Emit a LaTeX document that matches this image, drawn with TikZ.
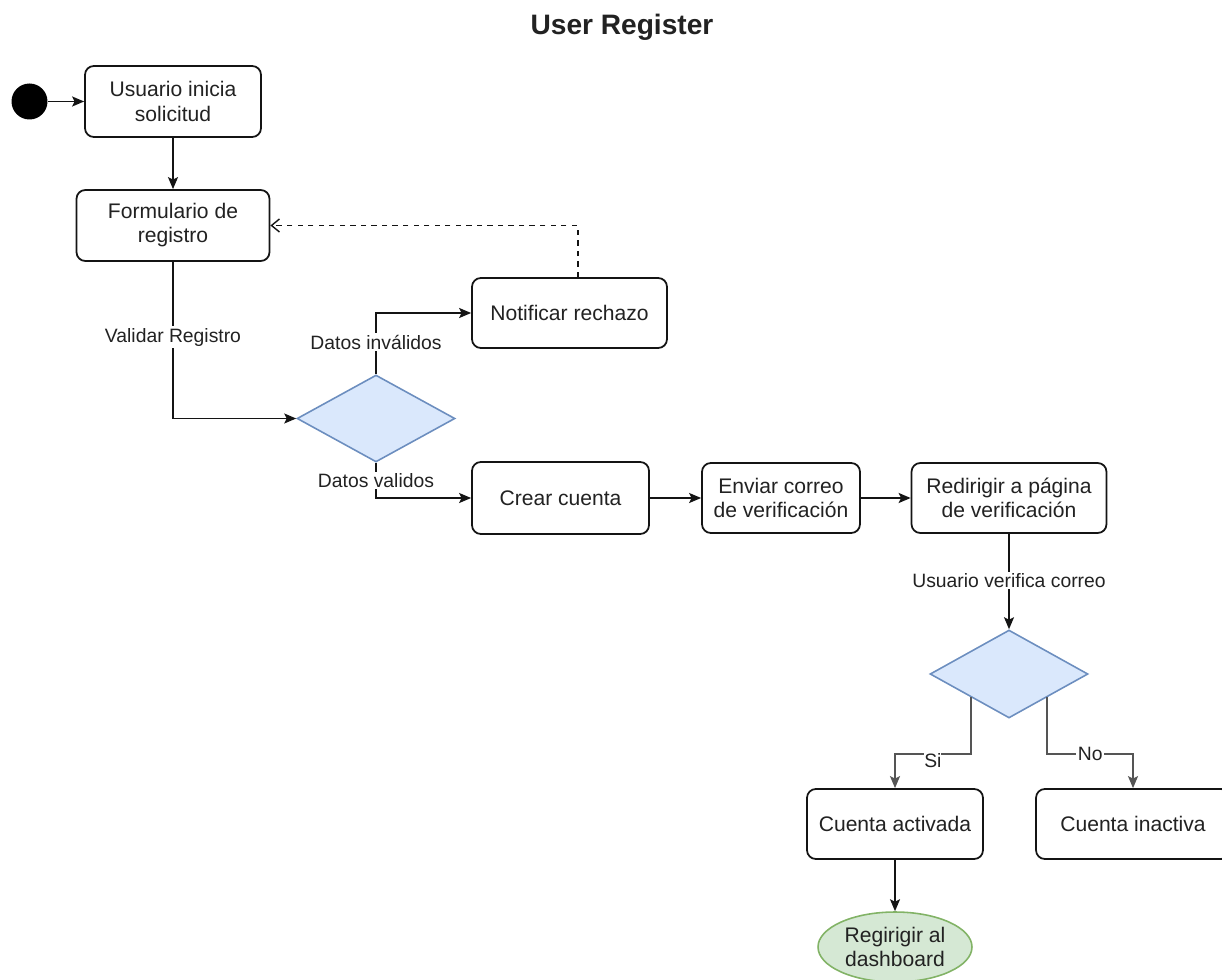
\documentclass[tikz,border=0pt]{standalone}
\usepackage{fontspec}
\setmainfont{Liberation Sans}
\usepackage{xcolor}
\usepackage{tikz}
\definecolor{textgray}{RGB}{34, 34, 34}
\definecolor{lineblack}{RGB}{20, 20, 20}
\definecolor{branchgray}{RGB}{85, 85, 85}
\definecolor{decfill}{RGB}{218, 232, 252}
\definecolor{decdraw}{RGB}{108, 142, 191}
\definecolor{endfill}{RGB}{213, 232, 212}
\definecolor{enddraw}{RGB}{130, 179, 102}
\usetikzlibrary{shapes.geometric,arrows.meta,positioning,calc}

\begin{document}
\begin{tikzpicture}[
    x=0.02cm, y=-0.02cm,
    action/.style={
        rectangle,
        rounded corners=5pt,
        minimum width=3.52cm,
        minimum height=1.42cm,
        align=center,
        font=\fontsize{12}{13.7}\selectfont,
        text=textgray,
        draw=lineblack,
        fill=white,
        line width=1pt
    },
    decision/.style={
        diamond,
        minimum width=3.16cm,
        minimum height=1.74cm,
        inner sep=0pt,
        fill=decfill,
        draw=decdraw,
        line width=0.9pt
    },
    final/.style={
        ellipse,
        minimum width=3.08cm,
        minimum height=1.4cm,
        inner sep=0pt,
        align=center,
        font=\fontsize{12}{13.7}\selectfont,
        text=textgray,
        fill=endfill,
        draw=enddraw,
        line width=0.9pt
    },
    lbl/.style={fill=white, inner sep=1pt, text=textgray, font=\fontsize{11}{12}\selectfont},
    arrow/.style={-{Stealth[length=0.24cm,width=0.2cm,inset=0.05cm]}, line width=1pt, draw=lineblack},
    branch/.style={arrow, draw=branchgray},
    back/.style={-{Straight Barb[length=0.16cm,width=0.26cm]}, dashed, line width=0.8pt, draw=lineblack}
]
    \useasboundingbox (0,0) rectangle (1222,979);

    % Title
    \node[font=\fontsize{16}{18}\selectfont\bfseries, text=textgray] (title) at (622,27) {User Register};

    % Start
    \node[circle, fill=black, minimum size=0.72cm, inner sep=0pt] (start) at (29.5,101.5) {};

    % Registration steps
    \node[action] (inicio) at (173,101.5) {Usuario inicia\\solicitud};
    \node[action, minimum width=3.86cm] (form) at (173,225.5) {Formulario de\\registro};
    \node[decision] (valida) at (376,418.5) {};
    \node[action, minimum width=3.9cm, minimum height=1.4cm] (rechazo) at (569.5,313) {Notificar rechazo};
    \node[action, minimum width=3.54cm, minimum height=1.44cm] (crear) at (560.5,498) {Crear cuenta};
    \node[action, minimum width=3.16cm, minimum height=1.4cm] (correo) at (781,498) {Enviar correo\\de verificación};
    \node[action, minimum width=3.9cm, minimum height=1.4cm] (redir) at (1009,498) {Redirigir a página\\de verificación};

    % Verification
    \node[decision, minimum height=1.76cm] (verifica) at (1009,674) {};
    \node[action, minimum height=1.4cm] (activa) at (895,824) {Cuenta activada};
    \node[action, minimum width=3.88cm, minimum height=1.4cm] (inactiva) at (1133,824) {Cuenta inactiva};
    \node[final] (dash) at (895,947) {Regirigir al\\dashboard};

    % Connectors
    \draw[arrow] (start) -- (inicio);
    \draw[arrow] (inicio) -- (form);
    \draw[arrow] (form.south) |- node[lbl, pos=0.24] {Validar Registro} (valida.west);
    \draw[arrow] (valida.north) |- node[lbl, pos=0.26] {Datos inválidos} (rechazo.west);
    \draw[arrow] (valida.south) |- node[lbl, pos=0.25] {Datos validos} (crear.west);
    \draw[back] ([xshift=0.17cm]rechazo.north) |- (form.east);
    \draw[arrow] (crear) -- (correo);
    \draw[arrow] (correo) -- (redir);
    \draw[arrow] (redir.south) -- node[lbl, pos=0.49] {Usuario verifica correo} (verifica.north);

    % Branches
    \coordinate (si) at ($(verifica.west)!0.52!(verifica.south)$);
    \coordinate (no) at ($(verifica.east)!0.52!(verifica.south)$);
    \draw[branch] (si) -- ++(0,57) -| node[lbl, pos=0.25, yshift=-0.12cm, inner sep=0pt] {Si} (activa.north);
    \draw[branch] (no) -- ++(0,57) -| node[lbl, pos=0.25] {No} (inactiva.north);
    \draw[arrow] (activa) -- (dash);
\end{tikzpicture}
\end{document}
